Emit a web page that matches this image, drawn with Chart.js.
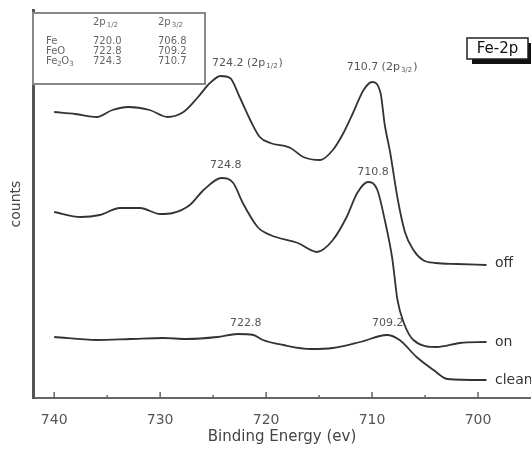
<!DOCTYPE html>
<html lang="en">
<head>
<meta charset="UTF-8">
<title>Fe-2p XPS spectra</title>
<script src="https://cdn.jsdelivr.net/npm/chart.js"></script>
<style>
  html, body { margin: 0; padding: 0; background: #fff; }
</style>
</head>
<body>
<canvas id="xps" width="531" height="450"></canvas>
<script>
// binding energy (eV) and counts (arbitrary units)
const offEnergy = [740, 738, 736, 734.5, 733, 731, 729.3, 727.8, 726.5, 725.3, 724.3, 723.4, 722.5, 721.5, 720.6, 719.6, 717.7, 716.5, 714.9, 713.7, 712.7, 711.8, 710.8, 710.0, 709.2, 708.8, 708.3, 707.6, 706.9, 706.1, 705.2, 704.0, 702, 699.2];
const offCounts = [286, 284, 281, 288, 291, 288, 281, 286, 300, 315, 322, 320, 301, 278, 261, 255, 250, 241, 238, 248, 265, 285, 308, 316, 305, 273, 246, 200, 166, 148, 138, 135, 134, 133];

const onEnergy = [740, 737.5, 735.7, 733.8, 731.9, 730, 728.8, 727.2, 725.9, 724.2, 723.1, 722.2, 720.8, 719.6, 717, 715.2, 713.7, 712.4, 711.4, 710.4, 709.5, 708.8, 708.1, 707.6, 707.0, 706.1, 703.9, 701.7, 699.2];
const onCounts = [186, 181, 183, 190, 190, 184, 185, 193, 208, 220, 215, 195, 171, 163, 155, 146, 158, 181, 205, 216, 208, 178, 140, 98, 75, 58, 51, 55, 56];

const cleanEnergy = [740, 736, 732.8, 729.7, 727.5, 724.6, 722.7, 721.2, 720.3, 718.4, 715.8, 713.7, 711.1, 708.6, 707.4, 705.8, 704.2, 702.9, 699.2];
const cleanCounts = [61, 58, 59, 60, 59, 61, 64, 63, 58, 53, 49, 50, 56, 63, 58, 41, 28, 19, 18];

const seriesNames = ['off', 'on', 'clean'];
const majorTicks = [740, 730, 720, 710, 700];
const minorTicks = [735, 725, 715, 705];

// reference table (eV)
const tableRows = ['Fe', 'FeO', 'Fe2O3'];
const table2p12 = ['720.0', '722.8', '724.3'];
const table2p32 = ['706.8', '709.2', '710.7'];

// peak annotations: [energy, counts, text, subscript]
const peakLabels = [
  [725.1, 335, '724.2 (2p', '1/2'],
  [712.4, 331, '710.7 (2p', '3/2'],
  [725.3, 233, '724.8', ''],
  [711.4, 226, '710.8', ''],
  [723.4, 75, '722.8', ''],
  [710.0, 75, '709.2', '']
];
const seriesLabelAt = [[698.4, 135], [698.4, 56], [698.4, 18]];

const FONT = '"DejaVu Sans", Arial, sans-serif';

function pairs(xs, ys) {
  return xs.map((v, i) => ({ x: v, y: ys[i] }));
}

// text with an optional subscript tail, optionally closed with a bracket
function drawSubText(ctx, x, y, main, sub, size, close) {
  ctx.font = size + 'px ' + FONT;
  ctx.fillText(main, x, y);
  if (!sub) return;
  let w = ctx.measureText(main).width;
  ctx.font = Math.round(size * 0.65) + 'px ' + FONT;
  ctx.fillText(sub, x + w + 1, y + size * 0.3);
  w += ctx.measureText(sub).width + 2;
  if (close) {
    ctx.font = size + 'px ' + FONT;
    ctx.fillText(')', x + w, y);
  }
}

const overlay = {
  id: 'overlay',
  afterDraw(chart) {
    const { ctx, chartArea, scales: { x, y } } = chart;
    ctx.save();

    // inward ticks on the energy axis
    ctx.strokeStyle = '#666';
    ctx.lineWidth = 1.5;
    majorTicks.forEach(v => {
      const px = x.getPixelForValue(v);
      ctx.beginPath();
      ctx.moveTo(px, chartArea.bottom);
      ctx.lineTo(px, chartArea.bottom - 6);
      ctx.stroke();
    });
    minorTicks.forEach(v => {
      const px = x.getPixelForValue(v);
      ctx.beginPath();
      ctx.moveTo(px, chartArea.bottom);
      ctx.lineTo(px, chartArea.bottom - 3);
      ctx.stroke();
    });

    // peak positions
    ctx.fillStyle = '#555';
    ctx.textBaseline = 'middle';
    ctx.textAlign = 'left';
    peakLabels.forEach(p => {
      drawSubText(ctx, x.getPixelForValue(p[0]), y.getPixelForValue(p[1]), p[2], p[3], 11, true);
    });

    // series names at the right
    ctx.fillStyle = '#333';
    ctx.font = '14px ' + FONT;
    seriesLabelAt.forEach((p, i) => {
      ctx.fillText(seriesNames[i], x.getPixelForValue(p[0]), y.getPixelForValue(p[1]));
    });

    // reference table box
    const bx = chartArea.left, by = 13, bw = 172, bh = 71;
    ctx.fillStyle = '#fff';
    ctx.fillRect(bx, by, bw, bh);
    ctx.strokeStyle = '#888';
    ctx.lineWidth = 2;
    ctx.strokeRect(bx, by, bw, bh);

    ctx.fillStyle = '#666';
    const colA = bx + 60, colB = bx + 125;
    drawSubText(ctx, colA, by + 9, '2p', '1/2', 10, false);
    drawSubText(ctx, colB, by + 9, '2p', '3/2', 10, false);
    tableRows.forEach((name, i) => {
      const ry = by + 28 + i * 10;
      ctx.font = '10px ' + FONT;
      if (name === 'Fe2O3') {
        ctx.fillText('Fe', bx + 13, ry);
        let w = ctx.measureText('Fe').width;
        ctx.font = '7px ' + FONT;
        ctx.fillText('2', bx + 13 + w, ry + 3);
        ctx.font = '10px ' + FONT;
        ctx.fillText('O', bx + 17 + w, ry);
        w += ctx.measureText('O').width;
        ctx.font = '7px ' + FONT;
        ctx.fillText('3', bx + 17 + w, ry + 3);
      } else {
        ctx.fillText(name, bx + 13, ry);
      }
      ctx.font = '10px ' + FONT;
      ctx.fillText(table2p12[i], colA, ry);
      ctx.fillText(table2p32[i], colB, ry);
    });

    // Fe-2p tag with drop shadow
    ctx.fillStyle = '#111';
    ctx.fillRect(472, 43, 62, 21);
    ctx.fillStyle = '#fff';
    ctx.fillRect(467, 38, 61, 21);
    ctx.strokeStyle = '#222';
    ctx.lineWidth = 1.5;
    ctx.strokeRect(467, 38, 61, 21);
    ctx.fillStyle = '#111';
    ctx.font = '15px ' + FONT;
    ctx.textAlign = 'center';
    ctx.fillText('Fe-2p', 497.5, 49);

    ctx.restore();
  }
};

const lineStyle = {
  borderColor: '#333',
  borderWidth: 1.8,
  pointRadius: 0,
  cubicInterpolationMode: 'monotone',
  fill: false
};

new Chart(document.getElementById('xps').getContext('2d'), {
  type: 'line',
  data: {
    datasets: [
      Object.assign({ label: seriesNames[0], data: pairs(offEnergy, offCounts) }, lineStyle),
      Object.assign({ label: seriesNames[1], data: pairs(onEnergy, onCounts) }, lineStyle),
      Object.assign({ label: seriesNames[2], data: pairs(cleanEnergy, cleanCounts) }, lineStyle)
    ]
  },
  options: {
    responsive: false,
    animation: false,
    layout: { padding: { top: 10, left: 0, right: 0, bottom: 0 } },
    plugins: { legend: { display: false }, tooltip: { enabled: false } },
    scales: {
      x: {
        type: 'linear',
        reverse: true,
        min: 695,
        max: 742,
        afterBuildTicks: s => { s.ticks = majorTicks.map(v => ({ value: v })); },
        afterFit: s => { s.height = 52; },
        grid: { display: false },
        border: { display: true, color: '#666', width: 2 },
        ticks: { color: '#555', padding: 6, font: { family: FONT, size: 14 } },
        title: {
          display: true,
          text: 'Binding Energy (ev)',
          color: '#444',
          font: { family: FONT, size: 15 },
          padding: { top: 0, bottom: 4 }
        }
      },
      y: {
        min: 0,
        max: 388,
        afterFit: s => { s.width = 33; },
        grid: { display: false, drawTicks: false },
        border: { display: true, color: '#555', width: 3 },
        ticks: { display: false },
        title: {
          display: true,
          text: 'counts',
          color: '#444',
          font: { family: FONT, size: 14 },
          padding: { top: 8, bottom: 0 }
        }
      }
    }
  },
  plugins: [overlay]
});
</script>
</body>
</html>
